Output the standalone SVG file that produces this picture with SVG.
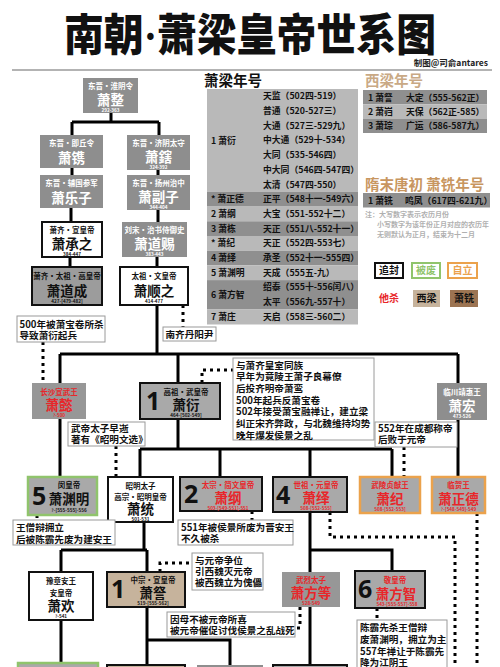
<svg xmlns="http://www.w3.org/2000/svg" width="500" height="667" viewBox="0 0 500 667">
<style>
text{font-family:"Noto Sans CJK SC","Noto Sans",sans-serif;font-weight:700}
.g{fill:#8e8e8e}
.gb{fill:#a9a9a9;stroke:#111;stroke-width:2}
.gr{fill:#a9a9a9;stroke:#90c46c;stroke-width:2.5}
.go{fill:#a9a9a9;stroke:#eba24c;stroke-width:2.5}
.w{fill:#fff;stroke:#111;stroke-width:2}
.tan{fill:#c6b39c;stroke:#111;stroke-width:2}
.nt{fill:#fff;stroke:#9a9a9a;stroke-width:1}
.tw{fill:#fff}.tk{fill:#111}.tr{fill:#e8262a}
.s1{font-size:7.5px}.s2{font-size:13.5px}.s3{font-size:4.6px}
.big{font-family:"Noto Sans","DejaVu Sans",sans-serif;font-size:25px;font-weight:700;fill:#111}
.n{font-size:9.6px;fill:#111}
.tb{font-size:8.8px;fill:#111}
.lt{fill:#b9b9b9}.dk{fill:#8f8f8f}
.ln{fill:none;stroke:#000;stroke-width:3}
.dt{fill:none;stroke:#000;stroke-width:3;stroke-dasharray:3 4}
.hd{font-size:14.5px}
.note{font-size:7px;fill:#b0b0b0}
.ttl{font-family:"Liberation Serif","Noto Sans CJK SC",serif;font-size:44px;font-weight:900;fill:#111}
</style>
<rect width="500" height="667" fill="#fff"/>
<text class="ttl" x="64" y="51" textLength="372" lengthAdjust="spacingAndGlyphs">南朝·萧梁皇帝世系图</text>
<text x="488" y="66" text-anchor="end" font-size="8.5" fill="#222">制图@司俞antares</text>
<line x1="12" y1="70" x2="492" y2="70" stroke="#9a9a9a" stroke-width="1.5"/>

<g id="connectors">
<path class="ln" d="M111,113V122M72,122H159M72,122V135M159,122V135"/>
<path class="ln" d="M72,168V175M158,170V175M71,208V222M158,210V222M70,257V267M157,257V267"/>
<path class="ln" d="M157,305V354M60,354H458M60,354V383M178,354V383M458,354V383"/>
<path class="ln" d="M60,419V477M458,420V477M178,419V449M140,449H392M140,449V477M220,449V477M310,449V477M392,449V477"/>
<path class="ln" d="M144,522V550M61,550H147M61,550V572M147,550V572M61,620V667M147,607V667M147,640H230V667"/>
<path class="ln" d="M310,512V572M310,550H392V571M310,607V667"/>
<path class="dt" d="M43,342V383M183,305V327M202,383V370H233M116,446V477M404,447V477M37,515V520M252,511V520"/>
<path class="dt" d="M330,512V537H455V667M477,513V667M160,572V563H192M300,607V628H295M377,608V620"/>
</g>

<g id="zheng"><rect class="g" x="83" y="78" width="55" height="35"/><text class="tw s1" x="110.5" y="89" text-anchor="middle">东晋·淮阴令</text><text class="tw s2" x="110.5" y="104.5" text-anchor="middle">萧整</text><text class="tw s3" x="110.5" y="111.5" text-anchor="middle">292-363</text></g>
<g id="juan"><rect class="g" x="40" y="135" width="63" height="33"/><text class="tw s1" x="71.5" y="146" text-anchor="middle">东晋·即丘令</text><text class="tw s2" x="71.5" y="162.5" text-anchor="middle">萧镌</text></g>
<g id="xia"><rect class="g" x="127" y="135" width="63" height="35"/><text class="tw s1" x="158.5" y="146" text-anchor="middle">东晋·济阴太守</text><text class="tw s2" x="158.5" y="161.5" text-anchor="middle">萧鎋</text><text class="tw s3" x="158.5" y="168.5" text-anchor="middle">324-392</text></g>
<g id="lezi"><rect class="g" x="40" y="175" width="63" height="33"/><text class="tw s1" x="71.5" y="186" text-anchor="middle">东晋·辅国参军</text><text class="tw s2" x="71.5" y="202.5" text-anchor="middle">萧乐子</text></g>
<g id="fuzi"><rect class="g" x="127" y="175" width="63" height="35"/><text class="tw s1" x="158.5" y="186" text-anchor="middle">东晋·扬州治中</text><text class="tw s2" x="158.5" y="201.5" text-anchor="middle">萧副子</text><text class="tw s3" x="158.5" y="208.5" text-anchor="middle">344-404</text></g>
<g id="chengzhi"><rect class="w" x="42" y="222" width="60" height="35"/><text class="tk s1" x="72" y="233" text-anchor="middle">萧齐·宣皇帝</text><text class="tk s2" x="72" y="248.5" text-anchor="middle">萧承之</text><text class="tk s3" x="72" y="255.5" text-anchor="middle">384-447</text></g>
<g id="daoci"><rect class="g" x="122" y="222" width="65" height="35"/><text class="tw s1" x="154.5" y="233" text-anchor="middle">刘宋·治书侍御史</text><text class="tw s2" x="154.5" y="248.5" text-anchor="middle">萧道赐</text><text class="tw s3" x="154.5" y="255.5" text-anchor="middle">383-443</text></g>
<g id="daocheng"><rect x="32" y="267" width="70" height="38" fill="#9c9c9c" stroke="#111" stroke-width="2"/><text class="tk s1" x="67" y="279" text-anchor="middle">萧齐·太祖·高皇帝</text><text class="tk s2" x="67" y="295.5" text-anchor="middle">萧道成</text><text class="tk s3" x="67" y="303" text-anchor="middle">427-[479-482]</text></g>
<g id="shunzhi"><rect class="w" x="120" y="267" width="68" height="38"/><text class="tk s1" x="154" y="279" text-anchor="middle">太祖·文皇帝</text><text class="tk s2" x="154" y="295.5" text-anchor="middle">萧顺之</text><text class="tk s3" x="154" y="303" text-anchor="middle">414-477</text></g>

<g id="note1"><rect class="nt" x="17" y="316" width="88" height="26"/><text class="n" x="19.5" y="328">500年被萧宝卷所杀</text><text class="n" x="19.5" y="339">导致萧衍起兵</text></g>
<g id="note2"><rect class="nt" x="163" y="327" width="53" height="14"/><text class="n" x="165.5" y="338">南齐丹阳尹</text></g>

<g id="yi"><rect x="32" y="383" width="54" height="36" fill="#979797"/><text class="tr s1" x="59" y="395" text-anchor="middle">长沙宣武王</text><text class="tr s2" x="59" y="410" text-anchor="middle">萧懿</text><text class="tr s3" x="59" y="417" text-anchor="middle">?-500</text></g>
<g id="yan"><rect class="gb" x="140" y="383" width="80" height="36"/><text class="big" x="146" y="410">1</text><text class="tk s1" x="186" y="395" text-anchor="middle">高祖·武皇帝</text><text class="tk s2" x="186" y="410" text-anchor="middle">萧衍</text><text class="tk s3" x="186" y="417" text-anchor="middle">464-[502-549]</text></g>
<g id="note3"><rect class="nt" x="233" y="358" width="141" height="82"/>
<text class="n" x="236" y="368.5">与萧齐皇室同族</text>
<text class="n" x="236" y="380.2">早年为竟陵王萧子良幕僚</text>
<text class="n" x="236" y="391.8">后投齐明帝萧鸾</text>
<text class="n" x="236" y="403.5">500年起兵反萧宝卷</text>
<text class="n" x="236" y="415.2">502年接受萧宝融禅让，建立梁</text>
<text class="n" x="236" y="426.8">纠正宋齐弊政，与北魏维持均势</text>
<text class="n" x="236" y="438.5">晚年爆发侯景之乱</text></g>
<g id="hong"><rect class="g" x="437" y="383" width="50" height="37"/><text class="tw s1" x="462" y="395" text-anchor="middle">临川靖惠王</text><text class="tw s2" x="462" y="410.5" text-anchor="middle">萧宏</text><text class="tw s3" x="462" y="417.5" text-anchor="middle">473-526</text></g>
<g id="note4"><rect class="nt" x="68" y="422" width="77" height="24"/><text class="n" x="71" y="432">武帝太子早逝</text><text class="n" x="71" y="443">著有《昭明文选》</text></g>
<g id="note5"><rect class="nt" x="375" y="422" width="82" height="25"/><text class="n" x="378" y="431.5">552年在成都称帝</text><text class="n" x="378" y="443">后败于元帝</text></g>

<g id="yuanming"><rect class="gr" x="28" y="477" width="69" height="38"/><text class="tk s1" x="69" y="488" text-anchor="middle">闵皇帝</text><text class="big" x="32" y="505">5</text><text class="tk s2" x="69" y="503.5" text-anchor="middle">萧渊明</text><text class="tk s3" x="69" y="511.5" text-anchor="middle">?-[555-555]-556</text></g>
<g id="tong"><rect class="w" x="108" y="477" width="65" height="45"/><text class="tk s1" x="140.5" y="489" text-anchor="middle">昭明太子</text><text class="tk s1" x="140.5" y="500" text-anchor="middle">高宗·昭明皇帝</text><text class="tk s2" x="140.5" y="513.5" text-anchor="middle">萧统</text><text class="tk s3" x="140.5" y="520.5" text-anchor="middle">501-531</text></g>
<g id="gang"><rect class="gb" x="180" y="477" width="82" height="34"/><text class="big" x="184" y="503">2</text><text class="tr s1" x="228" y="488" text-anchor="middle">太宗·简文皇帝</text><text class="tr s2" x="228" y="502.5" text-anchor="middle">萧纲</text><text class="tr s3" x="228" y="509.5" text-anchor="middle">503-[549-551]-551</text></g>
<g id="yi2"><rect class="gb" x="273" y="477" width="74" height="35"/><text class="big" x="276" y="504">4</text><text class="tr s1" x="316" y="488" text-anchor="middle">世祖·元皇帝</text><text class="tr s2" x="316" y="503" text-anchor="middle">萧绎</text><text class="tr s3" x="316" y="510" text-anchor="middle">508-[552-555]</text></g>
<g id="ji"><rect class="go" x="360" y="477" width="60" height="36"/><text class="tr s1" x="390" y="488" text-anchor="middle">武陵贞献王</text><text class="tr s2" x="390" y="503.5" text-anchor="middle">萧纪</text><text class="tr s3" x="390" y="510.5" text-anchor="middle">508-[552-553]</text></g>
<g id="zhengde"><rect class="go" x="432" y="477" width="53" height="36"/><text class="tr s1" x="458.5" y="488" text-anchor="middle">临贺王</text><text class="tr s2" x="458.5" y="503.5" text-anchor="middle">萧正德</text><text class="tr s3" x="458.5" y="510.5" text-anchor="middle">?-[548-549]-549</text></g>

<g id="note6"><rect class="nt" x="13" y="520" width="102" height="25"/><text class="n" x="16" y="530.5">王僧辩拥立</text><text class="n" x="16" y="542.5">后被陈霸先废为建安王</text></g>
<g id="note7"><rect class="nt" x="178" y="520" width="115" height="25"/><text class="n" x="181" y="531">551年被侯景所废为晋安王</text><text class="n" x="181" y="542">不久被杀</text></g>

<g id="huan"><rect class="w" x="29" y="572" width="64" height="48"/><text class="tk s1" x="61" y="584" text-anchor="middle">豫章安王</text><text class="tk s1" x="61" y="596" text-anchor="middle">安皇帝</text><text class="tk s2" x="61" y="610.5" text-anchor="middle">萧欢</text><text class="tk s3" x="61" y="617.5" text-anchor="middle">?-541</text></g>
<g id="cha"><rect class="tan" x="107" y="572" width="78" height="35"/><text class="big" x="111" y="598">1</text><text class="tk s1" x="153" y="583" text-anchor="middle">中宗·宣皇帝</text><text class="tk s2" x="153" y="598" text-anchor="middle">萧詧</text><text class="tk s3" x="153" y="605" text-anchor="middle">519-[555-562]</text></g>
<g id="note8"><rect class="nt" x="192" y="553" width="71" height="37"/><text class="n" x="195" y="564">与元帝争位</text><text class="n" x="195" y="575">引西魏灭元帝</text><text class="n" x="195" y="586">被西魏立为傀儡</text></g>
<g id="fangdeng"><rect x="282" y="572" width="58" height="35" fill="#979797"/><text class="tr s1" x="311" y="583" text-anchor="middle">武烈太子</text><text class="tr s2" x="311" y="598" text-anchor="middle">萧方等</text><text class="tr s3" x="311" y="605" text-anchor="middle">528-549</text></g>
<g id="fangzhi"><rect class="gb" x="355" y="571" width="70" height="37"/><text class="big" x="358" y="598">6</text><text class="tr s1" x="395" y="583" text-anchor="middle">敬皇帝</text><text class="tr s2" x="396" y="598.5" text-anchor="middle">萧方智</text><text class="tr s3" x="397" y="605.5" text-anchor="middle">543-[555-557]-558</text></g>
<g id="note9"><rect class="nt" x="167" y="612" width="128" height="25"/><text class="n" x="170" y="622.5">因母不被元帝所喜</text><text class="n" x="170" y="633.5">被元帝催促讨伐侯景之乱战死</text></g>
<g id="note10"><rect class="nt" x="357" y="620" width="90" height="52"/><text class="n" x="360" y="631">陈霸先杀王僧辩</text><text class="n" x="360" y="643">废萧渊明，拥立为主</text><text class="n" x="360" y="654.5">557年禅让于陈霸先</text><text class="n" x="360" y="665.5">降为江阴王</text></g>

<g id="dong"><rect class="gr" x="18" y="663" width="80" height="12"/></g>
<g id="kui"><rect class="tan" x="107" y="665" width="78" height="12"/></g>
<g id="child3"><rect class="g" x="197" y="665" width="66" height="12"/></g>
<g id="zhuang"><rect class="gb" x="273" y="665" width="74" height="12"/></g>

<g id="liang-table">
<text class="hd" x="204" y="86" fill="#111">萧梁年号</text>
<rect class="lt" x="207" y="89" width="151" height="102.9"/>
<rect class="dk" x="207" y="191.9" width="151" height="14.7"/>
<rect class="lt" x="207" y="206.6" width="151" height="14.7"/>
<rect class="dk" x="207" y="221.3" width="151" height="14.7"/>
<rect class="lt" x="207" y="236" width="151" height="14.7"/>
<rect class="dk" x="207" y="250.7" width="151" height="14.7"/>
<rect class="lt" x="207" y="265.4" width="151" height="14.7"/>
<rect class="dk" x="207" y="280.1" width="151" height="29.4"/>
<rect class="lt" x="207" y="309.5" width="151" height="15"/>
<text class="tb" x="211" y="143.5">1 萧衍</text>
<text class="tb" x="211" y="202.2">* 萧正德</text>
<text class="tb" x="211" y="216.9">2 萧纲</text>
<text class="tb" x="211" y="231.6">3 萧栋</text>
<text class="tb" x="211" y="246.3">* 萧纪</text>
<text class="tb" x="211" y="261">4 萧绎</text>
<text class="tb" x="211" y="275.7">5 萧渊明</text>
<text class="tb" x="211" y="298">6 萧方智</text>
<text class="tb" x="211" y="319.8">7 萧庄</text>
<text class="tb" x="263" y="99.3">天监（502四-519）</text>
<text class="tb" x="263" y="114">普通（520-527三）</text>
<text class="tb" x="263" y="128.7">大通（527三-529九）</text>
<text class="tb" x="263" y="143.4">中大通（529十-534）</text>
<text class="tb" x="263" y="158.1">大同（535-546四）</text>
<text class="tb" x="263" y="172.8">中大同（546四-547四）</text>
<text class="tb" x="263" y="187.5">太清（547四-550）</text>
<text class="tb" x="263" y="202.2">正平（548十一-549六）</text>
<text class="tb" x="263" y="216.9">大宝（551-552十二）</text>
<text class="tb" x="263" y="231.6">天正（551八-552十一）</text>
<text class="tb" x="263" y="246.3">天正（552四-553七）</text>
<text class="tb" x="263" y="261">承圣（552十一-555四）</text>
<text class="tb" x="263" y="275.7">天成（555五-九）</text>
<text class="tb" x="263" y="290.4">绍泰（555十-556闰八）</text>
<text class="tb" x="263" y="305.1">太平（556九-557十）</text>
<text class="tb" x="263" y="319.8">天启（558三-560二）</text>
</g>

<g id="xiliang-table">
<text class="hd" x="365" y="86" fill="#c9a985">西梁年号</text>
<rect class="dk" x="363" y="90" width="124" height="14.3"/>
<rect class="lt" x="363" y="104.3" width="124" height="14.3"/>
<rect class="dk" x="363" y="118.6" width="124" height="14.4"/>
<text class="tb" x="368" y="100.5">1 萧詧</text><text class="tb" x="406" y="100.5">大定（555-562正）</text>
<text class="tb" x="368" y="114.8">2 萧岿</text><text class="tb" x="406" y="114.8">天保（562正-585）</text>
<text class="tb" x="368" y="129.1">3 萧琮</text><text class="tb" x="406" y="129.1">广运（586-587九）</text>
</g>

<g id="xian-table">
<text class="hd" x="365" y="190" fill="#c8965f">隋末唐初 萧铣年号</text>
<rect class="dk" x="363" y="193" width="127" height="14.5"/>
<text class="tb" x="368" y="203.5">1 萧铣</text><text class="tb" x="405" y="203.5">鸣凤（617四-621九）</text>
<text class="note" x="365" y="217">注：大写数字表示农历月份</text>
<text class="note" x="377" y="227">小写数字为该年份正月对应的农历年</text>
<text class="note" x="377" y="237">无则默认为正月，结束为十二月</text>
</g>

<g id="legend">
<rect x="375" y="263" width="28" height="15" fill="#fff" stroke="#111" stroke-width="2"/><text x="389" y="274" font-size="10" text-anchor="middle" fill="#111">追封</text>
<rect x="412" y="263" width="28" height="15" fill="#fff" stroke="#90c46c" stroke-width="2"/><text x="426" y="274" font-size="10" text-anchor="middle" fill="#90c46c">被废</text>
<rect x="448" y="263" width="29" height="15" fill="#fff" stroke="#eba24c" stroke-width="2"/><text x="462.5" y="274" font-size="10" text-anchor="middle" fill="#eba24c">自立</text>
<text x="389" y="302" font-size="10" text-anchor="middle" fill="#e8262a">他杀</text>
<rect x="413" y="290" width="27" height="17" fill="#c6b39c"/><text x="426.5" y="302" font-size="10" text-anchor="middle" fill="#111">西梁</text>
<rect x="450" y="290" width="28" height="17" fill="#9c7452"/><text x="464" y="302" font-size="10" text-anchor="middle" fill="#111">萧铣</text>
</g>
</svg>
